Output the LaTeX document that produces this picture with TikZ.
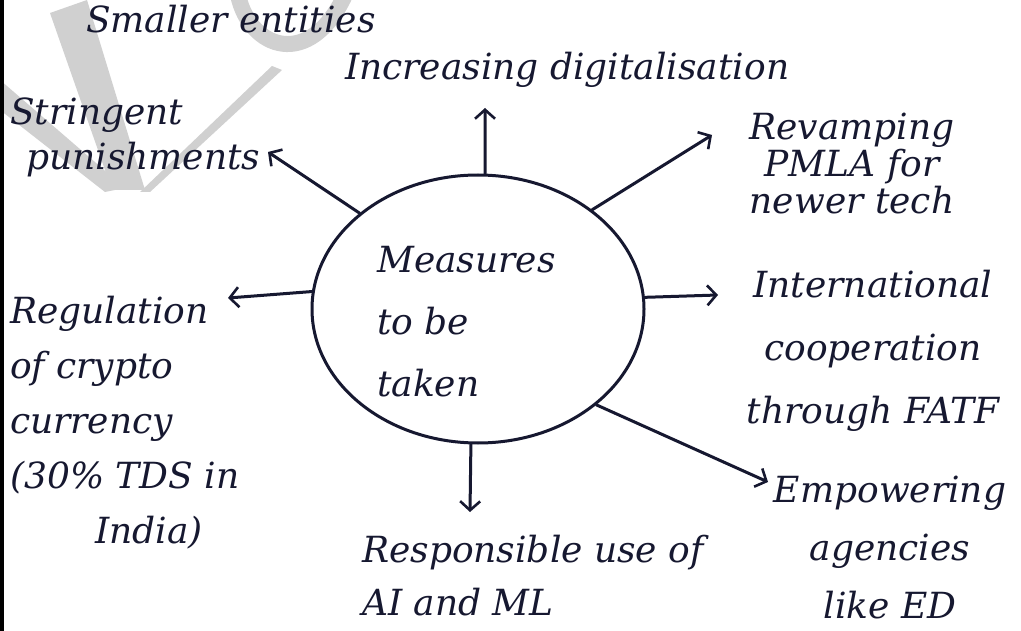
\documentclass[tikz,border=0pt]{standalone}
\usepackage{fontspec}
\setmainfont{DejaVu Serif}
\usetikzlibrary{shapes.geometric,arrows.meta}
\definecolor{ink}{RGB}{22,24,48}
\definecolor{wmark}{RGB}{208,208,208}
\begin{document}
\begin{tikzpicture}[x=1pt,y=-1pt,
  hand/.style={font=\fontsize{36}{44}\selectfont\itshape, text=ink, inner sep=0pt},
  arr/.style={draw=ink, line width=3pt, line cap=round,
    -{Straight Barb[length=9pt,width=20pt,line width=2.6pt]}},
  hub/.style={ellipse, draw=ink, line width=3pt, minimum width=332pt, minimum height=268pt, inner sep=0pt},
]
\useasboundingbox (0,0) rectangle (1021,631);
\fill[white] (0,0) rectangle (1021,631);

% faint watermark strokes behind the sketch
\fill[wmark] (50,13) -- (87,0) -- (145,190) -- (112,190) -- cycle;
\fill[wmark] (0,80) -- (0,110) -- (105,192) -- (125,188) -- cycle;
\fill[wmark] (140,192) -- (150,192) -- (282,70) -- (272,66) -- cycle;
\draw[wmark, line width=16pt] (238,-5) .. controls (250,50) and (310,70) .. (345,-5);

% page edge
\fill[black] (0,0) rectangle (4,631);

% central idea
\node[hub] (c) at (478,309) {};
\node[hand, align=left, anchor=north west, font=\fontsize{36}{62}\selectfont\itshape] (ctext) at (377,246) {Measures\\to be\\taken};

% surrounding measures
\node[hand, anchor=base west] (small) at (86,33) {Smaller entities};
\node[hand, anchor=base west] (digit) at (345,80) {Increasing digitalisation};
\node[hand, align=left, anchor=north west, font=\fontsize{36}{45}\selectfont\itshape] (string) at (10,98) {Stringent\\\hspace*{16pt}punishments};
\node[hand, align=center, anchor=north, font=\fontsize{36}{37}\selectfont\itshape] (revamp) at (852,113) {Revamping\\PMLA for\\newer tech};
\node[hand, align=left, anchor=north west, font=\fontsize{36}{55}\selectfont\itshape] (regul) at (10,296) {Regulation\\of crypto\\currency\\(30\% TDS in\\\hspace*{85pt}India)};
\node[hand, align=center, anchor=north, font=\fontsize{36}{63}\selectfont\itshape] (intl) at (873,270) {International\\cooperation\\through FATF};
\node[hand, align=center, anchor=north, font=\fontsize{36}{58}\selectfont\itshape] (empower) at (890,476) {Empowering\\agencies\\like ED};
\node[hand, align=left, anchor=north west, font=\fontsize{36}{53}\selectfont\itshape] (resp) at (362,535) {Responsible use of\\AI and ML};

% arrow tips
\coordinate (tdigit) at (485,108);
\coordinate (tstring) at (268,152);
\coordinate (trevamp) at (712,135);
\coordinate (tregul) at (228,298);
\coordinate (tintl) at (718,295);
\coordinate (tempower) at (768,482);
\coordinate (tresp) at (470,512);

\draw[arr] (c.87) -- (tdigit);
\draw[arr] (c.141) -- (tstring);
\draw[arr] (c.41) -- (trevamp);
\draw[arr] (c.174) -- (tregul);
\draw[arr] (c.4) -- (tintl);
\draw[arr] (c.-39) -- (tempower);
\draw[arr] (c.-93) -- (tresp);
\end{tikzpicture}
\end{document}
